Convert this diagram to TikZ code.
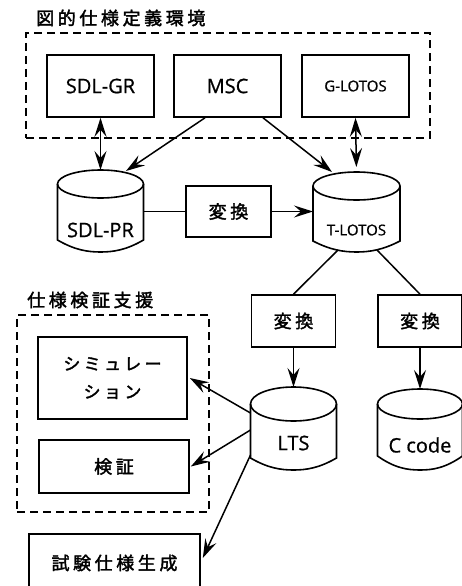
\documentclass[tikz,border=0pt]{standalone}
\usepackage{fontspec}
\setmainfont{Open Sans}[FakeBold=0.8]
\newfontfamily\jp[LetterSpace=20,FakeBold=2]{Noto Sans CJK JP}
\newfontfamily\jpk[LetterSpace=20,FakeBold=2]{Noto Sans CJK JP}
\usetikzlibrary{arrows.meta,calc}
\tikzset{
  box/.style={draw, line width=1.6pt, inner sep=0pt, font=\fontsize{20}{24}\selectfont},
  grp/.style={draw, line width=1.6pt, dash pattern=on 8pt off 5pt, inner sep=0pt},
  cyl/.style={line width=1.6pt},
  conn/.style={line width=1.5pt},
  arr/.style={conn, -{Stealth[length=19pt,width=12pt,inset=7pt]}},
  darr/.style={conn, {Stealth[length=19pt,width=12pt,inset=7pt]}-{Stealth[length=19pt,width=12pt,inset=7pt]}},
  lab/.style={inner sep=0pt, font=\fontsize{20}{24}\selectfont},
  smalllab/.style={inner sep=0pt, font=\fontsize{15}{18}\selectfont},
  jplab/.style={inner sep=0pt, font=\jp\fontsize{18}{22}\selectfont},
  jpbox/.style={box, font=\jp\fontsize{18}{22}\selectfont},
}
% name, cx, half width, top, ry, side bottom, bottom point
\newcommand\cylout[7]{%
  \draw[cyl] (#2,#4+#5) ellipse [x radius=#3pt, y radius=#5pt];
  \draw[cyl] (#2-#3,#4+#5) -- (#2-#3,#6)
    .. controls (#2-0.6*#3,#7-2) and (#2-0.3*#3,#7) .. (#2,#7)
    .. controls (#2+0.3*#3,#7) and (#2+0.6*#3,#7-2) .. (#2+#3,#6)
    -- (#2+#3,#4+#5);
  \coordinate (#1-n) at (#2,#4);
}
\begin{document}
\begin{tikzpicture}[x=1pt,y=-1pt]
\useasboundingbox (0,0) rectangle (462,586);
\clip (0,0) rectangle (462,586);

% titles and groups
\node[jplab, anchor=west] (title1) at (36,18) {図的仕様定義環境};
\node[grp, minimum width=404pt, minimum height=105pt] (env) at (228,85.5) {};
\node[jplab, anchor=west] (title2) at (27,300) {仕様検証支援};
\node[grp, minimum width=192pt, minimum height=197pt] (verif) at (113,413.5) {};

% boxes
\node[box, minimum width=107pt, minimum height=62pt] (sdlgr) at (100.5,86) {SDL-GR};
\node[box, minimum width=107pt, minimum height=62pt] (msc) at (227.5,86) {MSC};
\node[box, minimum width=107pt, minimum height=62pt, font=\fontsize{15}{18}\selectfont] (glotos) at (355.5,86) {G-LOTOS};
\node[jpbox, minimum width=85pt, minimum height=51pt] (conv1) at (228.5,211.5) {変換};
\node[jpbox, minimum width=84pt, minimum height=52pt] (conv2) at (293.5,321) {変換};
\node[jpbox, minimum width=84pt, minimum height=52pt] (conv3) at (420,321) {変換};
\node[box, minimum width=149pt, minimum height=82pt, align=center,
      font=\jpk\fontsize{17}{28}\selectfont] (sim) at (112.5,378) {シミュレー\\ション};
\node[jpbox, minimum width=150pt, minimum height=53pt] (kensho) at (114,466.5) {検証};
\node[jpbox, minimum width=171pt, minimum height=58pt] (shiken) at (114.5,563) {試験仕様生成};

% cylinders
\cylout{sdlpr}{100.5}{43}{170}{14}{240}{252}
\node[lab] (sdlpr) at (100.5,230) {SDL-PR};
\cylout{tlotos}{356.5}{43.5}{172}{14}{241}{252}
\node[smalllab] (tlotos) at (356.5,230) {T-LOTOS};
\cylout{lts}{293.5}{43}{387}{17}{458}{470}
\node[lab] (lts) at (293.5,443) {LTS};
\cylout{ccode}{420}{42.5}{389}{15}{456}{470}
\node[lab] (ccode) at (420,445) {C code};

% connection points on cylinders
\coordinate (sdlpr-a) at (126,171);
\coordinate (sdlpr-e) at (143.5,211.5);
\coordinate (tlotos-a) at (332,172);
\coordinate (tlotos-w) at (313,211.5);
\coordinate (tlotos-sw) at (338,250);
\coordinate (tlotos-se) at (377,250);
\coordinate (lts-w1) at (250.5,413);
\coordinate (lts-w2) at (250.5,430);
\coordinate (lts-w3) at (250.5,455);

% connectors
\draw[darr] (sdlgr.south) -- (sdlpr-n);
\draw[darr, shorten >=5pt] (glotos.south) -- (tlotos-n);
\draw[arr] ([xshift=-22.5pt]msc.south) -- (sdlpr-a);
\draw[arr] ([xshift=35.5pt]msc.south) -- (tlotos-a);
\draw[conn] (sdlpr-e) -- (conv1.west);
\draw[arr] (conv1.east) -- (tlotos-w);
\draw[conn] (tlotos-sw) -- (conv2.north);
\draw[conn] (tlotos-se) -- (conv3.north);
\draw[arr] (conv2.south) -- (lts-n);
\draw[arr] (conv3.south) -- (ccode-n);
\draw[arr] (lts-w1) -- ([xshift=2pt]sim.east);
\draw[arr] (lts-w2) -- ([xshift=1pt]kensho.east);
\draw[arr] (lts-w3) -- ([xshift=2pt,yshift=5pt]shiken.east);
\end{tikzpicture}
\end{document}
